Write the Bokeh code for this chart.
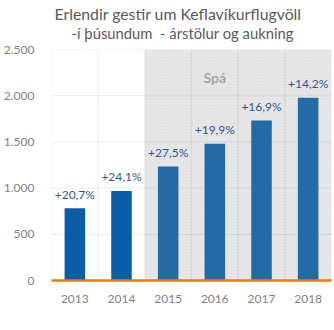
from bokeh.plotting import figure
from bokeh.models import ColumnDataSource, FactorRange, Range1d, FixedTicker, Title
from bokeh.transform import dodge
from bokeh.core.properties import value
from bokeh.embed import file_html
from bokeh.resources import INLINE

years = ["2013", "2014", "2015", "2016", "2017", "2018"]
visitors = [781, 969, 1235, 1481, 1731, 1977]
growth = ["+20,7%", "+24,1%", "+27,5%", "+19,9%", "+16,9%", "+14,2%"]
is_forecast = [False, False, True, True, True, True]
forecast_start = "2015"
forecast_end = "2018"
forecast_text = "Spá"
forecast_text_year = "2016"
forecast_text_value = 2200
y_ticks = [0, 500, 1000, 1500, 2000, 2500]
y_tick_labels = ["0", "500", "1.000", "1.500", "2.000", "2.500"]
title_line1 = "Erlendir gestir um Keflavíkurflugvöll"
title_line2 = "-í þúsundum \u00a0- árstölur og aukning"

FONT = "Lato"
ACTUAL_COLOR = "#0a5ea8"
FORECAST_COLOR = "#246aa6"

colors = [FORECAST_COLOR if f else ACTUAL_COLOR for f in is_forecast]
src = ColumnDataSource(dict(yr=years, v=visitors, g=growth, c=colors))

p = figure(x_range=FactorRange(*years, range_padding=0, factor_padding=0),
           y_range=Range1d(y_ticks[0], y_ticks[-1]),
           width=334, height=330, output_backend="svg", toolbar_location=None,
           min_border_left=43, min_border_right=3, min_border_top=49, min_border_bottom=50,
           outline_line_color=None, background_fill_color="white", border_fill_color="white")

p.xgrid.visible = False
p.ygrid.visible = False

# forecast shaded region
shade = ColumnDataSource(dict(s=[forecast_start], e=[forecast_end],
                              b=[y_ticks[0]], t=[y_ticks[-1]]))
p.quad(left=dodge("s", -0.5, range=p.x_range), right=dodge("e", 0.5, range=p.x_range),
       bottom="b", top="t", source=shade, fill_color="#e3e3e3", line_color=None,
       hatch_pattern="dot", hatch_color="white", hatch_alpha=0.4, hatch_scale=3, hatch_weight=1)

# gridlines
hsrc = ColumnDataSource(dict(y=y_ticks[1:], x0=[years[0]] * (len(y_ticks) - 1),
                             x1=[years[-1]] * (len(y_ticks) - 1)))
p.segment(x0=dodge("x0", -0.5, range=p.x_range), x1=dodge("x1", 0.5, range=p.x_range),
          y0="y", y1="y", source=hsrc, line_color="black", line_alpha=0.075, line_width=1)
vsrc = ColumnDataSource(dict(x=years, y0=[y_ticks[0]] * len(years), y1=[y_ticks[-1]] * len(years)))
p.segment(x0=dodge("x", -0.5, range=p.x_range), x1=dodge("x", -0.5, range=p.x_range),
          y0="y0", y1="y1", source=vsrc, line_color="black", line_alpha=0.075, line_width=1)

p.vbar(x="yr", top="v", width=0.44, source=src, fill_color="c", line_color=None)

p.text(x="yr", y="v", text="g", source=src, text_align="center", text_baseline="alphabetic",
       y_offset=-14, text_font=value(FONT), text_font_size="12px", text_color="#2f5597")

p.text(x=[forecast_text_year], y=[forecast_text_value], text=[forecast_text],
       text_align="center", text_baseline="middle", text_font=value(FONT),
       text_font_size="14px", text_font_style="bold", text_color="#a6a6a6")

# axes
p.yaxis.ticker = FixedTicker(ticks=y_ticks)
p.yaxis.major_label_overrides = {t: l for t, l in zip(y_ticks, y_tick_labels)}
p.yaxis.axis_line_color = None
p.yaxis.major_tick_line_color = None
p.yaxis.minor_tick_line_color = None
p.yaxis.major_label_standoff = 11
p.yaxis.major_label_text_font = FONT
p.yaxis.major_label_text_font_size = "12px"
p.yaxis.major_label_text_color = "#7f7f7f"

p.xaxis.axis_line_color = "#f07d00"
p.xaxis.axis_line_width = 2.5
p.xaxis.major_tick_line_color = None
p.xaxis.minor_tick_line_color = None
p.xaxis.major_label_standoff = 8
p.xaxis.major_label_text_font = FONT
p.xaxis.major_label_text_font_size = "12px"
p.xaxis.major_label_text_color = "#7f7f7f"

# titles (line 2 nearest the frame, then line 1 above it)
p.add_layout(Title(text=title_line2, align="left", offset=20, standoff=14, vertical_align="middle",
                   text_font=FONT, text_font_size="14.8px", text_font_style="normal",
                   text_color="#595959"), "above")
p.add_layout(Title(text=title_line1, align="left", offset=3, standoff=-17, vertical_align="middle",
                   text_font=FONT, text_font_size="15.8px", text_font_style="normal",
                   text_color="#595959"), "above")

open("out.html", "w").write(file_html(p, INLINE))
